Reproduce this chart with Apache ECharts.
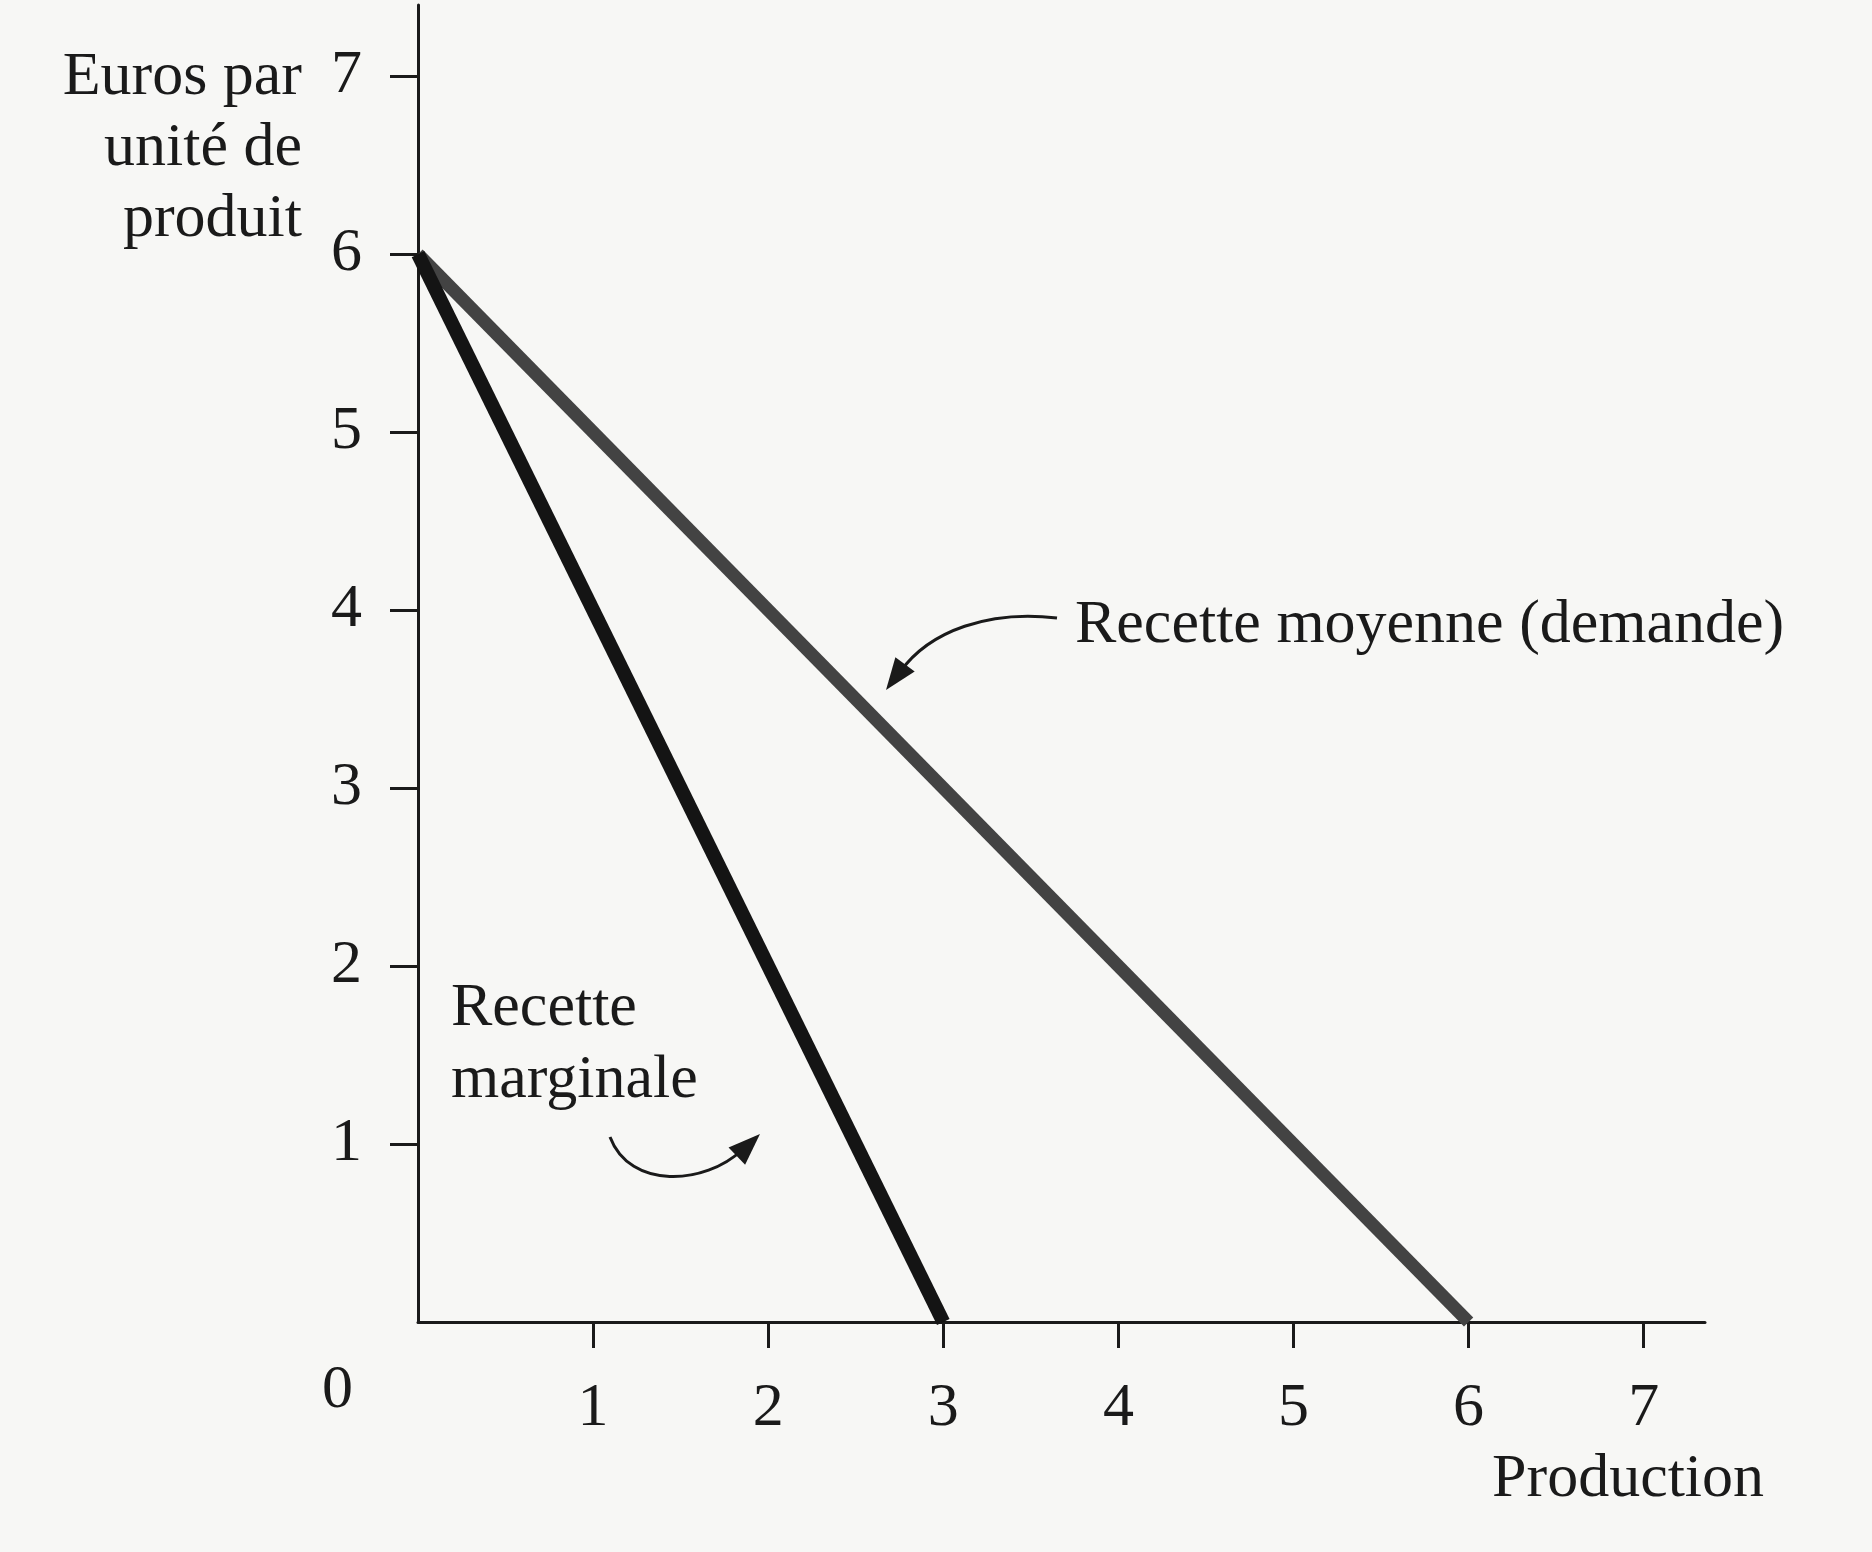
<!DOCTYPE html>
<html><head><meta charset="utf-8">
<script src="https://cdn.jsdelivr.net/npm/echarts@6/dist/echarts.min.js"></script>
<style>html,body{margin:0;padding:0;background:#f7f7f5}#c{width:1872px;height:1552px}</style>
</head><body><div id="c"></div>
<script>
// ---- data ----
const xTicks = [1, 2, 3, 4, 5, 6, 7];
const yTicks = [1, 2, 3, 4, 5, 6, 7];
const demandX = [0, 6];
const demandY = [6, 0];
const mrX = [0, 3];
const mrY = [6, 0];
const originLabel = '0';
const yAxisName = 'Euros par\nunité de\nproduit';
const xAxisName = 'Production';
const demandLabel = 'Recette moyenne (demande)';
const mrLabel = 'Recette\nmarginale';

const FONT = '"Liberation Serif", "DejaVu Serif", serif';
const INK = '#1a1a1a';
const chart = echarts.init(document.getElementById('c'), null, {renderer: 'canvas'});

function arrowHead(tip, dir, len, wid) {
  const n = Math.hypot(dir[0], dir[1]);
  const ux = dir[0] / n, uy = dir[1] / n;
  const bx = tip[0] - ux * len, by = tip[1] - uy * len;
  const px = -uy * wid / 2, py = ux * wid / 2;
  return {type: 'polygon', shape: {points: [tip, [bx + px, by + py], [bx - px, by - py]]},
    style: {fill: INK}, z: 10};
}

const option = {
  backgroundColor: '#f7f7f5',
  animation: false,
  grid: {left: 418, right: 167, top: 5, bottom: 230, containLabel: false, outerBoundsMode: 'none'},
  xAxis: {
    type: 'value', min: 0, max: 7.35, interval: 1,
    name: xAxisName, nameLocation: 'end', nameGap: -213,
    nameTextStyle: {fontFamily: FONT, fontSize: 62, color: INK, align: 'left', verticalAlign: 'top', padding: [127, 0, 0, 0]},
    axisLine: {show: true, onZero: false, lineStyle: {color: INK, width: 3}},
    axisTick: {show: true, length: 26, lineStyle: {color: INK, width: 3}, customValues: xTicks},
    axisLabel: {fontFamily: FONT, fontSize: 62, color: INK, margin: 56, customValues: xTicks},
    splitLine: {show: false}
  },
  yAxis: {
    type: 'value', min: 0, max: 7.4, interval: 1,
    axisLine: {show: true, onZero: false, lineStyle: {color: INK, width: 3}},
    axisTick: {show: true, length: 28, lineStyle: {color: INK, width: 3}, customValues: yTicks},
    axisLabel: {fontFamily: FONT, fontSize: 62, color: INK, margin: 56, customValues: yTicks},
    splitLine: {show: false}
  },
  series: [
    {type: 'line', name: 'Recette moyenne (demande)', data: demandX.map((x, i) => [x, demandY[i]]),
      symbol: 'none', lineStyle: {color: '#434343', width: 13, cap: 'butt'}, z: 3},
    {type: 'line', name: 'Recette marginale', data: mrX.map((x, i) => [x, mrY[i]]),
      symbol: 'none', lineStyle: {color: '#141414', width: 14, cap: 'butt'}, z: 4}
  ],
  graphic: [
    {type: 'text', style: {x: 302, y: 42, text: yAxisName, font: '62px ' + FONT, fill: INK, align: 'right', verticalAlign: 'top', lineHeight: 71}},
    {type: 'text', left: 322, top: 1360, style: {text: originLabel, font: '62px ' + FONT, fill: INK}},
    {type: 'text', left: 1075, top: 595, style: {text: demandLabel, font: '62px ' + FONT, fill: INK}},
    {type: 'text', left: 451, top: 973, style: {text: mrLabel, font: '62px ' + FONT, fill: INK, lineHeight: 72}},
    {type: 'bezierCurve', shape: {x1: 1057, y1: 618, cpx1: 990, cpy1: 610, cpx2: 930, cpy2: 630, x2: 900, y2: 672},
      style: {stroke: INK, lineWidth: 3, fill: null}},
    arrowHead([886, 690], [-37, 50], 32, 24),
    {type: 'bezierCurve', shape: {x1: 610, y1: 1137, cpx1: 630, cpy1: 1190, cpx2: 705, cpy2: 1185, x2: 742, y2: 1150},
      style: {stroke: INK, lineWidth: 3, fill: null}},
    arrowHead([760, 1134], [42, -40], 32, 24)
  ]
};
chart.setOption(option);
</script></body></html>
